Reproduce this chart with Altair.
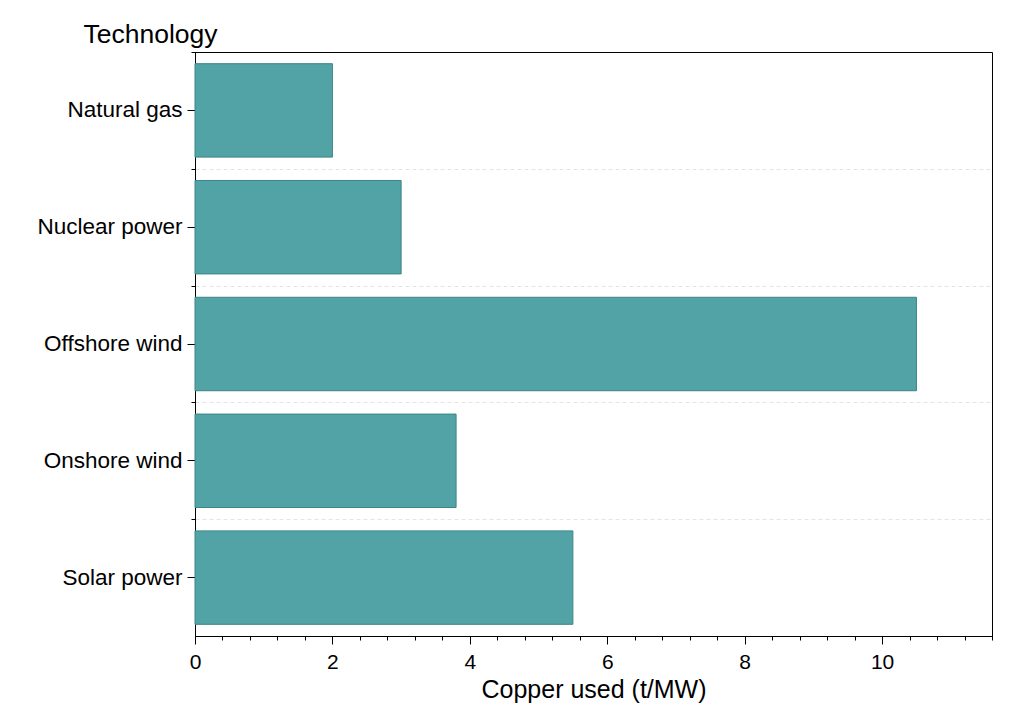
import altair as alt
import pandas as pd

technologies = ["Natural gas", "Nuclear power", "Offshore wind", "Onshore wind", "Solar power"]
copper_used = [2.0, 3.0, 10.5, 3.8, 5.5]
major_ticks = [0, 2, 4, 6, 8, 10]
minor_ticks = [round(i * 0.4, 1) for i in range(30)]

df = pd.DataFrame({"Technology": technologies, "Copper": copper_used})

FONT = "Liberation Sans"
PLOT_H = 584
HALF_STEP = PLOT_H / len(technologies) / 2

yscale = alt.Scale(domain=technologies, paddingInner=0.2, paddingOuter=0.1)
xscale = alt.Scale(domain=[0, 11.6], nice=False, zero=True)

grid = alt.Chart(df).mark_bar(opacity=0).encode(
    x=alt.X("Copper:Q", scale=xscale, axis=None),
    y=alt.Y("Technology:N", scale=yscale, sort=technologies,
            axis=alt.Axis(orient="left", tickOffset=HALF_STEP, ticks=False, labels=False,
                          title=None, grid=True, gridColor="#e4e4e4", gridDash=[4, 3],
                          gridWidth=1, domain=False)),
)

minor = alt.Chart(df).mark_bar(opacity=0).encode(
    x=alt.X("Copper:Q", scale=xscale,
            axis=alt.Axis(orient="bottom", values=minor_ticks, tickSize=4, labels=False,
                          title=None, grid=False, domain=True)),
    y=alt.Y("Technology:N", scale=yscale, sort=technologies,
            axis=alt.Axis(orient="left", tickOffset=-HALF_STEP, tickSize=4, labels=False,
                          title=None, grid=False, domain=True)),
)

bars = alt.Chart(df).mark_bar(
    color="#52A3A5", stroke="#3B8587", strokeWidth=1
).encode(
    x=alt.X("Copper:Q", scale=xscale,
            axis=alt.Axis(orient="bottom", values=major_ticks, tickSize=8, labelFontSize=21,
                          labelPadding=7, labelFlush=False, title="Copper used (t/MW)",
                          titleFontSize=25, titleFontWeight="normal",
                          titleBaseline="alphabetic", titleY=61, grid=False, format="d")),
    y=alt.Y("Technology:N", scale=yscale, sort=technologies,
            axis=alt.Axis(orient="left", tickSize=8, labelFontSize=22.5, labelPadding=5,
                          title="Technology", titleAngle=0, titleAlign="left",
                          titleBaseline="alphabetic", titleX=-112, titleY=-10,
                          titleFontSize=26.5, titleFontWeight="normal", grid=False)),
)

chart = alt.layer(grid, minor, bars).resolve_axis(x="independent", y="independent").properties(
    width=797, height=PLOT_H,
    background="white",
    autosize=alt.AutoSizeParams(type="none"),
    padding={"left": 187, "top": 44, "right": 24, "bottom": 83},
).configure_view(
    stroke="black", strokeWidth=1
).configure_axis(
    domainColor="black", tickColor="black", labelColor="black", titleColor="black",
    labelFont=FONT, titleFont=FONT, domainWidth=1, tickWidth=1,
)

chart.save("out.html", embed_options={"renderer": "svg", "actions": False})
